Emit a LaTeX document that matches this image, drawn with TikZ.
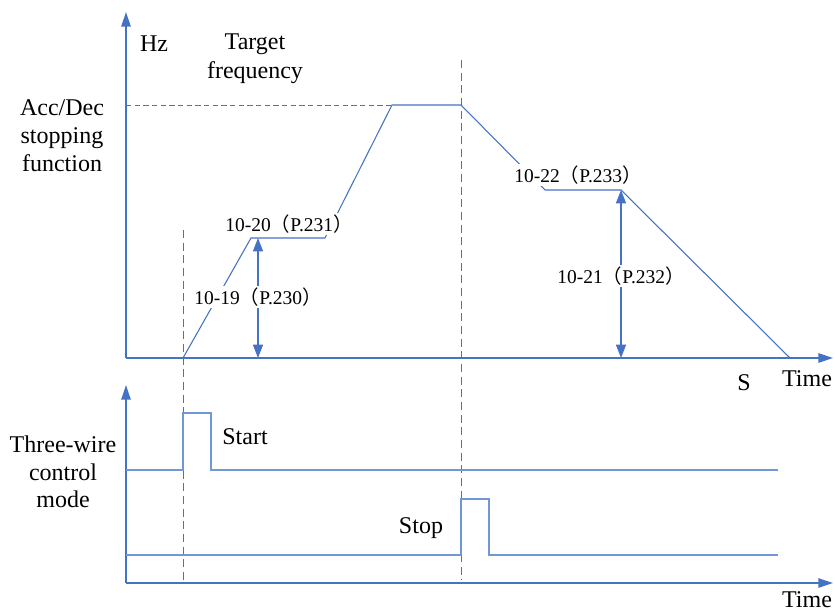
\documentclass[tikz,border=0pt]{standalone}
\usepackage{fontspec}
\setmainfont{Liberation Serif}
\newfontfamily\cjk{Noto Sans CJK SC}
\usetikzlibrary{arrows.meta}
\definecolor{PlotBlue}{HTML}{4472C4}
\definecolor{SignalBlue}{HTML}{7297D6}
\tikzset{
  axis/.style={draw=PlotBlue, line width=1.5pt, -{Triangle[length=11pt,width=7pt]}},
  curve/.style={draw=PlotBlue, line width=0.8pt},
  signal/.style={draw=SignalBlue, line width=1pt},
  guide/.style={draw=PlotBlue, line width=0.7pt, dash pattern=on 6pt off 3.5pt},
  levelguide/.style={draw=PlotBlue, line width=0.7pt, dash pattern=on 4pt off 2.5pt},
  span/.style={draw=PlotBlue, line width=1pt,
    {Triangle[length=10pt,width=7.5pt]}-{Triangle[length=10pt,width=7.5pt]}},
  axislabel/.style={font=\fontsize{18}{21}\selectfont, align=center, inner sep=0pt},
  paramlabel/.style={font=\fontsize{14.6}{17}\selectfont, fill=white, inner sep=1pt}
}
\newcommand{\param}[2]{#1{\cjk （}P.#2{\cjk ）}}

\begin{document}
\begin{tikzpicture}[x=0.75pt, y=-0.75pt]
  \useasboundingbox (0,0) rectangle (835,613);
  % frequency axes
  \coordinate (origin) at (126,358);
  \coordinate (hztop) at (126,12);
  \coordinate (timeend) at (833,358);
  \draw[axis] (origin) -- (hztop);
  \draw[axis] (origin) -- (timeend);
  % control axes
  \coordinate (corigin) at (126,583);
  \coordinate (ctop) at (126,385);
  \coordinate (cend) at (833,583);
  \draw[axis, line width=1.2pt] (corigin) -- (ctop);
  \draw[axis, line width=1.2pt] (corigin) -- (cend);
  % start and stop instants
  \coordinate (starttop) at (183,230);
  \coordinate (startbot) at (183,580);
  \coordinate (stoptop) at (461,60);
  \coordinate (stopbot) at (461,580);
  \draw[guide] (starttop) -- (startbot);
  \draw[guide] (stoptop) -- (stopbot);
  % frequency profile
  \coordinate (run0) at (183,358);
  \coordinate (dwellA) at (251,238);
  \coordinate (dwellB) at (325,238);
  \coordinate (targetA) at (392,105);
  \coordinate (targetB) at (461,105);
  \coordinate (dwellC) at (545,190);
  \coordinate (dwellD) at (621,190);
  \coordinate (halt) at (790,358);
  \draw[levelguide] (origin |- targetA) -- (targetA);
  \draw[curve] (run0) -- (dwellA) -- (dwellB) -- (targetA) -- (targetB)
    -- (dwellC) -- (dwellD) -- (halt);
  \coordinate (accbase) at (258,358);
  \coordinate (decbase) at (621,358);
  \draw[span] (accbase) -- (accbase |- dwellA);
  \draw[span] (decbase) -- (dwellD);
  % control signals
  \draw[signal] (126,470) -- (183,470) -- (183,413) -- (211,413) -- (211,470) -- (778,470);
  \draw[signal] (126,555) -- (461,555) -- (461,499) -- (489,499) -- (489,555) -- (778,555);
  % labels
  \node[paramlabel] (acc) at (258,297) {\param{10-19}{230}};
  \node[paramlabel] (dwell) at (289,224) {\param{10-20}{231}};
  \node[paramlabel] (dec) at (621,276) {\param{10-21}{232}};
  \node[paramlabel] (decdwell) at (578,175) {\param{10-22}{233}};
  \node[axislabel] (hz) at (154,44) {Hz};
  \node[axislabel, font=\fontsize{18}{21.8}\selectfont] (target) at (255,59) {Target\\frequency};
  \node[axislabel, font=\fontsize{18}{21}\selectfont] (accdec) at (62,136) {Acc/Dec\\stopping\\function};
  \node[axislabel] (sec) at (744,383) {S};
  \node[axislabel] (time) at (807,379) {Time};
  \node[axislabel, font=\fontsize{18}{20.6}\selectfont] (wire) at (63,472) {Three-wire\\control\\mode};
  \node[axislabel] (start) at (245,437) {Start};
  \node[axislabel] (stop) at (421,528) {Stop};
  \node[axislabel] (ctime) at (807,600) {Time};
\end{tikzpicture}
\end{document}
